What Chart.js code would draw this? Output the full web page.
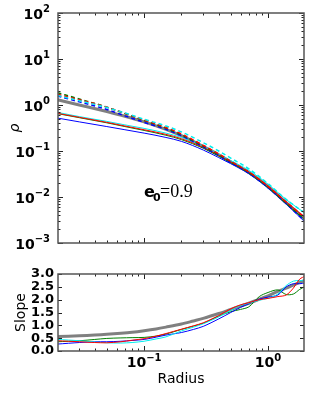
<!DOCTYPE html>
<html>
<head>
<meta charset="utf-8">
<script src="https://cdn.jsdelivr.net/npm/chart.js@4.4.1/dist/chart.umd.min.js"></script>
<style>
  html, body { margin: 0; padding: 0; background: #fff; }
  #wrap { position: relative; width: 310px; height: 393px; }
  #densityBox { position: absolute; left: 0; top: 0; width: 310px; height: 260px; }
  #slopeBox { position: absolute; left: 0; top: 255px; width: 310px; height: 138px; }
</style>
</head>
<body>
<div id="wrap">
  <div id="densityBox"><canvas id="densityChart"></canvas></div>
  <div id="slopeBox"><canvas id="slopeChart"></canvas></div>
</div>
<script>
// density profiles (upper panel)
const radiusRho = [0.02, 0.03, 0.05, 0.07, 0.1, 0.15, 0.2, 0.3, 0.4, 0.5, 0.7, 1.0, 1.4, 2.0];
const rhoModel     = [1.30, 1.00, 0.72, 0.57, 0.43, 0.295, 0.215, 0.125, 0.083, 0.058, 0.034, 0.017, 0.0075, 0.0033];
const rhoRedDash   = [1.72, 1.30, 0.90, 0.66, 0.47, 0.325, 0.235, 0.133, 0.086, 0.060, 0.035, 0.017, 0.0078, 0.0035];
const rhoGreenDash = [1.85, 1.35, 0.90, 0.65, 0.46, 0.315, 0.225, 0.128, 0.083, 0.058, 0.034, 0.0165, 0.0074, 0.0032];
const rhoBlueDash  = [1.57, 1.17, 0.80, 0.58, 0.42, 0.295, 0.215, 0.123, 0.080, 0.056, 0.033, 0.016, 0.0072, 0.0029];
const rhoCyanDash  = [1.62, 1.24, 0.88, 0.67, 0.49, 0.35, 0.26, 0.152, 0.100, 0.070, 0.041, 0.0195, 0.0089, 0.0044];
const rhoRed   = [0.66, 0.54, 0.42, 0.35, 0.29, 0.23, 0.185, 0.12, 0.081, 0.058, 0.035, 0.0172, 0.0078, 0.0035];
const rhoGreen = [0.65, 0.53, 0.41, 0.34, 0.28, 0.22, 0.177, 0.115, 0.077, 0.056, 0.033, 0.016, 0.0072, 0.0031];
const rhoBlue  = [0.52, 0.43, 0.34, 0.29, 0.245, 0.197, 0.162, 0.105, 0.072, 0.053, 0.032, 0.0155, 0.0070, 0.0028];
const rhoCyan  = [0.69, 0.56, 0.44, 0.37, 0.31, 0.245, 0.196, 0.125, 0.085, 0.062, 0.038, 0.019, 0.0088, 0.0044];

// logarithmic slopes (lower panel)
const radiusSlope = [0.02, 0.03, 0.04, 0.05, 0.065, 0.08, 0.1, 0.125, 0.15, 0.2, 0.25, 0.3, 0.4, 0.5, 0.6, 0.7, 0.85, 1.0, 1.2, 1.4, 1.6, 1.8, 2.0];
const slopeModel = [0.56, 0.59, 0.62, 0.65, 0.69, 0.73, 0.79, 0.86, 0.93, 1.05, 1.17, 1.27, 1.46, 1.62, 1.75, 1.86, 2.02, 2.15, 2.32, 2.45, 2.57, 2.67, 2.76];
const slopeRed   = [0.40, 0.36, 0.33, 0.32, 0.36, 0.42, 0.48, 0.58, 0.68, 0.85, 0.98, 1.10, 1.38, 1.64, 1.80, 1.88, 2.00, 2.05, 2.12, 2.18, 2.45, 2.80, 2.92];
const slopeCyan  = [0.45, 0.40, 0.35, 0.32, 0.31, 0.33, 0.38, 0.47, 0.55, 0.78, 0.93, 1.06, 1.33, 1.58, 1.78, 1.86, 1.98, 2.05, 2.22, 2.55, 2.72, 2.75, 2.72];
const slopeBlue  = [0.27, 0.33, 0.36, 0.36, 0.38, 0.41, 0.45, 0.54, 0.62, 0.72, 0.84, 0.96, 1.25, 1.50, 1.70, 1.84, 2.02, 2.10, 2.18, 2.50, 2.62, 2.62, 2.65];
const slopeGreen = [0.36, 0.40, 0.45, 0.49, 0.51, 0.52, 0.53, 0.58, 0.66, 0.84, 0.97, 1.08, 1.36, 1.53, 1.62, 1.72, 2.12, 2.28, 2.38, 2.20, 2.22, 2.40, 2.52];

const rhoTicks = [1e-3, 1e-2, 1e-1, 1, 10, 100];
const rhoTickExponents = ["−3", "−2", "−1", "0", "1", "2"];
const slopeTicks = [0, 0.5, 1, 1.5, 2, 2.5, 3];
const slopeTickLabels = ["0.0", "0.5", "1.0", "1.5", "2.0", "2.5", "3.0"];
const radiusTicks = [0.1, 1];
const radiusTickExponents = ["−1", "0"];

const RED = "#ff0000", GREEN = "#008000", BLUE = "#0000ff", CYAN = "#00eeee", GRAY = "#808080";

Chart.defaults.font.family = "'DejaVu Sans', sans-serif";
Chart.defaults.color = "#000";

function series(xs, ys, color, width, dash, monotone) {
  return {
    data: xs.map((x, i) => ({ x: x, y: ys[i] })),
    borderColor: color,
    borderWidth: width,
    borderDash: dash || [],
    pointRadius: 0,
    fill: false,
    tension: 0.3,
    cubicInterpolationMode: monotone ? "monotone" : "default",
  };
}

function logMarks(lo, hi) {
  const out = [];
  for (let k = lo; k <= hi; k++) {
    for (let m = 1; m <= 9; m++) out.push([m * Math.pow(10, k), m === 1 ? 5 : 2.5]);
  }
  return out;
}

// inward ticks on all four sides plus the frame
const frameTicks = {
  id: "frameTicks",
  afterDraw(chart, args, opts) {
    const { ctx, chartArea: area } = chart;
    const xs = chart.scales.x, ys = chart.scales.y;
    ctx.save();
    ctx.strokeStyle = "#222";
    ctx.lineWidth = 1;
    ctx.beginPath();
    opts.xMarks.forEach(([v, len]) => {
      if (v < xs.min || v > xs.max) return;
      const px = Math.round(xs.getPixelForValue(v)) + 0.5;
      ctx.moveTo(px, area.bottom); ctx.lineTo(px, area.bottom - len);
      ctx.moveTo(px, area.top); ctx.lineTo(px, area.top + len);
    });
    opts.yMarks.forEach(([v, len]) => {
      if (v < ys.min || v > ys.max) return;
      const py = Math.round(ys.getPixelForValue(v)) + 0.5;
      ctx.moveTo(area.left, py); ctx.lineTo(area.left + len, py);
      ctx.moveTo(area.right, py); ctx.lineTo(area.right - len, py);
    });
    ctx.stroke();
    ctx.strokeStyle = "#555";
    ctx.lineWidth = 1.5;
    ctx.strokeRect(area.left, area.top, area.right - area.left, area.bottom - area.top);
    ctx.restore();
  },
};

// "10" with a raised exponent for the log axes
const powerLabels = {
  id: "powerLabels",
  afterDraw(chart, args, opts) {
    const { ctx, chartArea: area } = chart;
    const scale = chart.scales[opts.axis];
    ctx.save();
    ctx.fillStyle = "#000";
    ctx.textBaseline = "alphabetic";
    opts.values.forEach((v, i) => {
      const exp = opts.exponents[i];
      ctx.font = "bold 14px 'DejaVu Sans'";
      const wb = ctx.measureText("10").width;
      ctx.font = "bold 10px 'DejaVu Sans'";
      const we = ctx.measureText(exp).width;
      let left, baseY, raise;
      if (opts.axis === "y") {
        left = area.left - 8 - wb - we;
        baseY = scale.getPixelForValue(v) + 6;
        raise = 7;
      } else {
        left = scale.getPixelForValue(v) - (wb + we) / 2;
        baseY = area.bottom + 16;
        raise = 6;
      }
      ctx.font = "bold 14px 'DejaVu Sans'";
      ctx.fillText("10", left, baseY);
      ctx.font = "bold 10px 'DejaVu Sans'";
      ctx.fillText(exp, left + wb, baseY - raise);
    });
    ctx.restore();
  },
};

// e_0 = 0.9 label, anchored at (0.1, 0.01)
const eccLabel = {
  id: "eccLabel",
  afterDraw(chart) {
    const { ctx } = chart;
    const x = chart.scales.x.getPixelForValue(0.1);
    const y = chart.scales.y.getPixelForValue(0.01);
    ctx.save();
    ctx.fillStyle = "#000";
    ctx.textBaseline = "alphabetic";
    ctx.font = "bold 16px 'DejaVu Sans'";
    ctx.fillText("e", x, y);
    ctx.font = "bold 11px 'DejaVu Sans'";
    ctx.fillText("0", x + 9, y + 4);
    ctx.font = "18px 'Liberation Serif'";
    ctx.fillText("=0.9", x + 16, y);
    ctx.restore();
  },
};

const xMin = 0.0202, xMax = 1.95;

new Chart(document.getElementById("densityChart"), {
  type: "line",
  data: {
    datasets: [
      series(radiusRho, rhoCyanDash, CYAN, 1.5, [4, 3], true),
      series(radiusRho, rhoRedDash, RED, 1.5, [4, 3], true),
      series(radiusRho, rhoGreenDash, GREEN, 1.5, [4, 3], true),
      series(radiusRho, rhoBlueDash, BLUE, 1.5, [4, 3], true),
      series(radiusRho, rhoRed, RED, 1, null, true),
      series(radiusRho, rhoCyan, CYAN, 1, null, true),
      series(radiusRho, rhoGreen, GREEN, 1, null, true),
      series(radiusRho, rhoBlue, BLUE, 1, null, true),
      series(radiusRho, rhoModel, GRAY, 3, null, true),
    ],
  },
  options: {
    responsive: true,
    maintainAspectRatio: false,
    animation: false,
    devicePixelRatio: 1,
    layout: { padding: { left: 0, right: 6, top: 13, bottom: 17 } },
    plugins: {
      legend: { display: false },
      tooltip: { enabled: false },
      frameTicks: { xMarks: logMarks(-2, 0), yMarks: logMarks(-3, 1).concat([[100, 5]]) },
      powerLabels: { axis: "y", values: rhoTicks, exponents: rhoTickExponents },
    },
    scales: {
      x: { type: "logarithmic", min: xMin, max: xMax, display: false },
      y: {
        type: "logarithmic",
        min: 1e-3,
        max: 1e2,
        afterFit: (s) => { s.width = 58; },
        grid: { display: false, drawTicks: false },
        border: { display: false },
        ticks: { display: false },
        title: { display: true, text: "ρ", font: { size: 14, style: "italic" }, padding: { top: 7, bottom: 0 } },
      },
    },
  },
  plugins: [frameTicks, powerLabels, eccLabel],
});

new Chart(document.getElementById("slopeChart"), {
  type: "line",
  data: {
    datasets: [
      series(radiusSlope, slopeRed, RED, 1),
      series(radiusSlope, slopeCyan, CYAN, 1),
      series(radiusSlope, slopeBlue, BLUE, 1),
      series(radiusSlope, slopeGreen, GREEN, 1),
      series(radiusSlope, slopeModel, GRAY, 3),
    ],
  },
  options: {
    responsive: true,
    maintainAspectRatio: false,
    animation: false,
    devicePixelRatio: 1,
    layout: { padding: { left: 0, right: 6, top: 19, bottom: 0 } },
    plugins: {
      legend: { display: false },
      tooltip: { enabled: false },
      frameTicks: { xMarks: logMarks(-2, 0), yMarks: slopeTicks.map((v) => [v, 4]) },
      powerLabels: { axis: "x", values: radiusTicks, exponents: radiusTickExponents },
    },
    scales: {
      x: {
        type: "logarithmic",
        min: xMin,
        max: xMax,
        afterFit: (s) => { s.height = 42; },
        grid: { display: false, drawTicks: false },
        border: { display: false },
        ticks: { display: false },
        title: { display: true, text: "Radius", font: { size: 14 }, padding: { top: 0, bottom: 5 } },
      },
      y: {
        min: 0,
        max: 3,
        afterBuildTicks: (s) => { s.ticks = slopeTicks.map((v) => ({ value: v })); },
        afterFit: (s) => { s.width = 58; },
        grid: { display: false, drawTicks: false },
        border: { display: false },
        ticks: {
          autoSkip: false,
          padding: 4,
          font: { size: 13, weight: "bold" },
          callback: (v, i) => slopeTickLabels[i],
        },
        title: { display: true, text: "Slope", font: { size: 14 }, padding: { top: 13, bottom: 0 } },
      },
    },
  },
  plugins: [frameTicks, powerLabels],
});
</script>
</body>
</html>
